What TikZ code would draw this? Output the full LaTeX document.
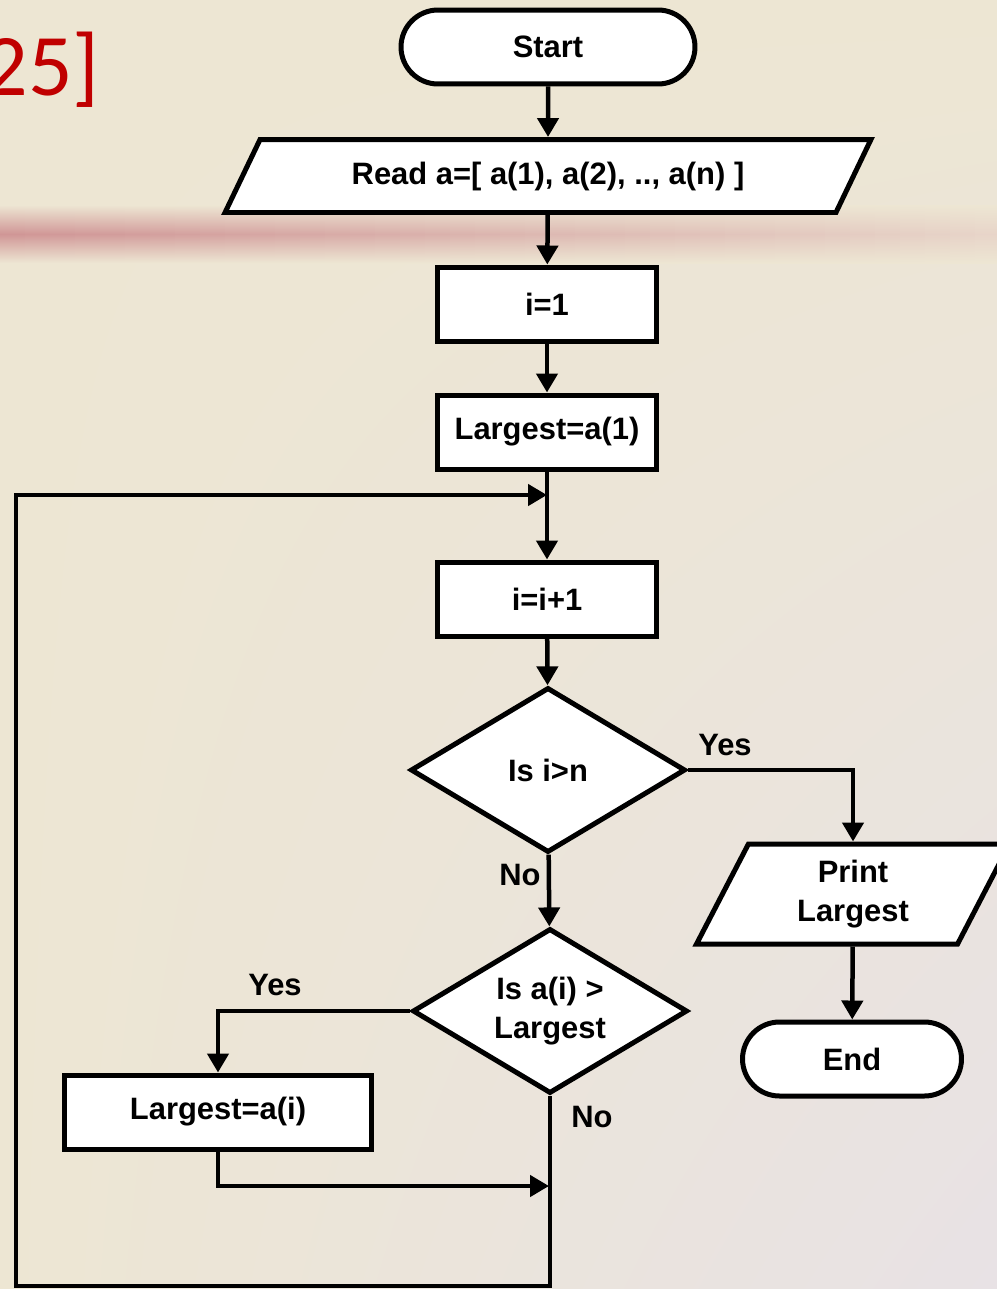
\documentclass[tikz,border=0pt]{standalone}
\usepackage{fontspec}
\setmainfont{Liberation Sans}
\newfontfamily\slidefont{Carlito}
\usetikzlibrary{shapes.geometric,arrows.meta,shadings}

\definecolor{bgbeige}{RGB}{237,230,211}
\definecolor{bggrey}{RGB}{232,226,229}
\definecolor{bandpink}{RGB}{208,150,150}
\definecolor{bandfaint}{RGB}{232,214,202}
\definecolor{slidered}{RGB}{192,0,0}

\tikzset{
  chart/.style={draw=black, line width=0.1cm, fill=white, align=center, inner sep=0pt,
    font=\fontsize{17.6}{22}\selectfont\bfseries},
  terminal/.style={chart, rectangle, rounded corners=0.74cm, minimum width=5.88cm, minimum height=1.48cm},
  procbox/.style={chart, rectangle, minimum width=4.38cm, minimum height=1.48cm},
  iobox/.style={chart, trapezium, trapezium stretches body=true},
  decision/.style={chart, diamond, aspect=1.67, minimum width=5.5cm, minimum height=3.3cm},
  lbl/.style={font=\fontsize{17.6}{20}\selectfont\bfseries},
  flow/.style={line width=0.09cm, -{Triangle[length=0.38cm,width=0.42cm]}},
}

\begin{document}
\begin{tikzpicture}[x=0.02cm, y=-0.02cm]
    \useasboundingbox (0,0) rectangle (997,1289);
    \clip (0,0) rectangle (997,1289);
    % Slide background
    \shade[upper left=bgbeige, upper right=bgbeige, lower left=bgbeige, lower right=bggrey] (0,0) rectangle (997,1289);
    \foreach \k in {0,...,39} {
      \pgfmathsetmacro\mix{100-2.5*\k}
      \shade[top color=bgbeige, bottom color=bgbeige, middle color=bandpink!\mix!bandfaint] ({25*\k},205) rectangle ({25*\k+26},263);
    }
    \node[anchor=base east, inner sep=0pt, text=slidered, font=\slidefont\fontsize{50}{56}\selectfont] (ref) at (100,95) {25]};

    % Flowchart boxes
    \node[terminal] (start) at (548,47) {Start};
    \node[iobox, trapezium left angle=39.5, trapezium right angle=140.5, minimum width=12.92cm, minimum height=1.46cm] (read) at (548,176) {Read a=[ a(1), a(2), .., a(n) ]};
    \node[procbox] (init) at (547,304) {i=1};
    \node[procbox] (first) at (547,432) {Largest=a(1)};
    \node[procbox] (incr) at (547,599) {i=i+1};
    \node[decision] (test) at (548,770) {Is i>n};
    \node[decision] (cmp) at (550,1011) {Is a(i) >\\Largest};
    \node[procbox, minimum width=6.14cm] (update) at (218,1112) {Largest=a(i)};
    \node[iobox, trapezium left angle=52.5, trapezium right angle=127.5, minimum width=6.26cm, minimum height=2cm] (print) at (853,894) {Print\\Largest};
    \node[terminal, minimum width=4.38cm] (stop) at (852,1059) {End};

    % Branch labels
    \node[lbl] (yes1) at (725,745) {Yes};
    \node[lbl] (no1) at (520,875) {No};
    \node[lbl] (yes2) at (275,985) {Yes};
    \node[lbl] (no2) at (592,1117) {No};

    % Loop corners
    \coordinate (merge) at (547,495);
    \coordinate (join) at (549,1186);
    \coordinate (loopbr) at (550,1286);
    \coordinate (loopbl) at (16,1286);
    \coordinate (looptl) at (16,495);

    % Connectors
    \draw[flow] (start) -- (read);
    \draw[flow] (read) -- (init);
    \draw[flow] (init) -- (first);
    \draw[line width=0.09cm] (first) -- (merge);
    \draw[flow] (merge) -- (incr);
    \draw[flow] (incr) -- (test);
    \draw[flow] (test.east) -| (print.north);
    \draw[flow] (test) -- (cmp);
    \draw[flow] (print) -- (stop);
    \draw[flow] (cmp.west) -| (update.north);
    \draw[flow] (update.south) |- (join);
    \draw[flow] (cmp.south) -- (loopbr) -- (loopbl) -- (looptl) -- (merge);
\end{tikzpicture}
\end{document}
